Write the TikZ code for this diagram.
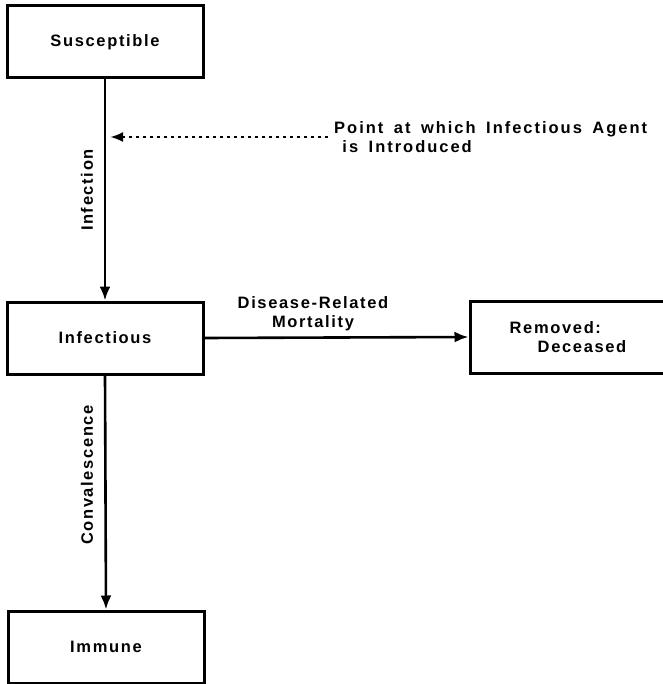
\documentclass[tikz,border=0pt]{standalone}
\usepackage{fontspec}
\setmainfont{Liberation Sans}[LetterSpace=10,BoldFont={Liberation Sans Bold}]
\newfontfamily\ptfont{Liberation Sans Bold}[LetterSpace=12,WordSpace=1.6]
\usetikzlibrary{arrows.meta}
\begin{document}
\begin{tikzpicture}[x=1pt,y=-1pt,
  txt/.style={font=\fontsize{16.5}{19}\selectfont\bfseries},
  box/.style={draw,line width=3pt,minimum width=196pt,minimum height=72pt,inner sep=0pt,txt},
  flow/.style={line width=2.6pt,-{Latex[length=14pt,width=11pt]}},
  lbl/.style={txt,inner sep=0pt}]
\useasboundingbox (0,0) rectangle (662,684);
\node[box] (sus) at (105,42) {Susceptible};
\node[box] (inf) at (105,338) {Infectious};
\node[box] (imm) at (106,647) {Immune};
\node[box,minimum width=196pt,minimum height=72pt,align=left] (rem) at (568,337) {Removed:\\\hspace{1.7em}Deceased};
\draw[flow] (sus.south) -- (inf.north);
\draw[flow] (inf.south) -- (imm.north);
\draw[flow] (inf.east) -- (rem.west);
\node[lbl,rotate=90] (lin) at (87,190) {Infection};
\node[lbl,rotate=90] (lcon) at (87,475) {Convalescence};
\node[lbl,align=center] (lmort) at (313,314) {Disease-Related\\Mortality};
\node[inner sep=0pt,align=left,anchor=west,font=\ptfont\fontsize{16.5}{19}\selectfont] (pt) at (334,137) {Point at which Infectious Agent\\\hspace{0.5em}is Introduced};
\coordinate (tip) at (110,137);
\draw[line width=2.6pt,dash pattern=on 2.6pt off 4.4pt,-{Latex[length=13pt,width=10pt]}] (pt.west) ++(-6,0) coordinate (ds) -- (tip);
\end{tikzpicture}
\end{document}
